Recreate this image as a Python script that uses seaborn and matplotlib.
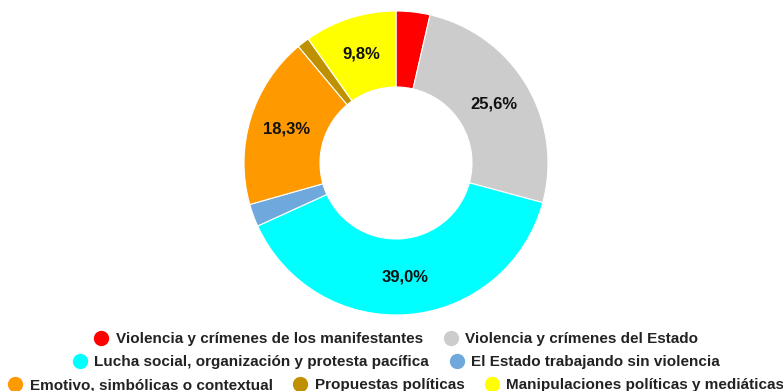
import matplotlib
matplotlib.use("Agg")
import matplotlib.pyplot as plt
from matplotlib.lines import Line2D
import seaborn as sns

# Share of coverage by category (percent)
categories = [
    "Violencia y crímenes de los manifestantes",
    "Violencia y crímenes del Estado",
    "Lucha social, organización y protesta pacífica",
    "El Estado trabajando sin violencia",
    "Emotivo, simbólicas o contextual",
    "Propuestas políticas",
    "Manipulaciones políticas y mediáticas",
]
shares = [3.6, 25.6, 39.0, 2.4, 18.3, 1.3, 9.8]
colors = ["#FF0000", "#CCCCCC", "#00FFFF", "#6FA8DC", "#FF9900", "#BF9000", "#FFFF00"]

# Legend rows as laid out under the ring
legend_rows = [[0, 1], [2, 3], [4, 5, 6]]

sns.set_theme(style="white")
plt.rcParams["font.family"] = ["Liberation Sans", "DejaVu Sans"]
palette = sns.color_palette(colors)

W, H = 783, 391
fig = plt.figure(figsize=(W / 100, H / 100), dpi=100)

cx, cy, r = 396, 163, 152
ax = fig.add_axes([(cx - r) / W, 1 - (cy + r) / H, 2 * r / W, 2 * r / H])


def pct_label(p):
    return (f"{p:.1f}".replace(".", ",") + "%") if p >= 5 else ""


ax.pie(
    shares,
    colors=palette,
    startangle=90,
    counterclock=False,
    radius=1.0,
    autopct=pct_label,
    pctdistance=0.75,
    wedgeprops=dict(width=0.5, edgecolor="white", linewidth=0.8),
    textprops=dict(fontsize=12, fontweight="bold", color="#111111"),
)
ax.set_xlim(-1, 1)
ax.set_ylim(-1, 1)
ax.set_aspect("equal")
ax.axis("off")

row_y = [339, 362, 385]
for row, y in zip(legend_rows, row_y):
    handles = [
        Line2D([], [], linestyle="none", marker="o", markersize=10,
               markerfacecolor=palette[i], markeredgecolor=palette[i])
        for i in row
    ]
    labels = [categories[i] for i in row]
    fig.legend(
        handles, labels,
        loc="center", bbox_to_anchor=(cx / W, 1 - y / H),
        ncol=len(row), frameon=False,
        prop=dict(size=11, weight="bold"),
        labelcolor="#222222",
        handlelength=1.0, handletextpad=0.45, columnspacing=1.3,
        borderpad=0, borderaxespad=0,
    )

fig.savefig("out.png", dpi=100)
